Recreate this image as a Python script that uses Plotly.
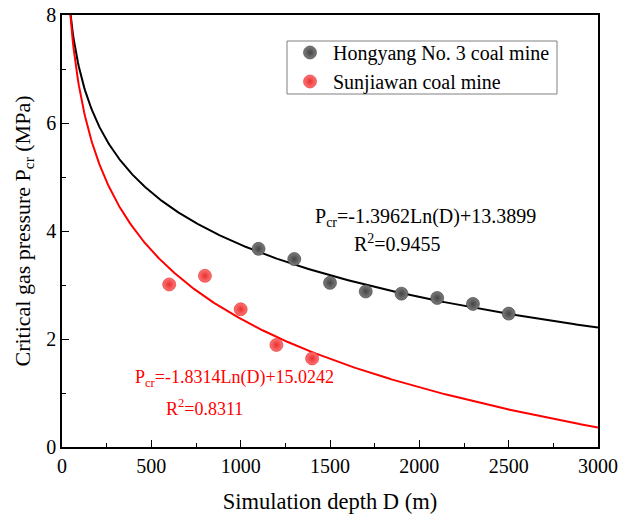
import numpy as np
import plotly.graph_objects as go

# Data
hong_depth = [1100, 1300, 1500, 1700, 1900, 2100, 2300, 2500]
hong_p = [3.67, 3.48, 3.04, 2.88, 2.84, 2.76, 2.65, 2.47]
sun_depth = [600, 800, 1000, 1200, 1400]
sun_p = [3.01, 3.17, 2.55, 1.89, 1.64]
# fitted coefficients shown on the chart: P = a*ln(D) + b
hong_fit = [-1.3962, 13.3899]
sun_fit = [-1.8314, 15.0242]
x_ticks = [0, 500, 1000, 1500, 2000, 2500, 3000]
y_ticks = [0, 2, 4, 6, 8]

FONT = "Liberation Serif, Times New Roman, serif"

d = np.linspace(40, 3000, 600)
hong_curve = hong_fit[0] * np.log(d) + hong_fit[1]
sun_curve = sun_fit[0] * np.log(d) + sun_fit[1]

fig = go.Figure()
fig.add_trace(go.Scatter(x=d, y=hong_curve, mode="lines", line=dict(color="black", width=2),
                         showlegend=False, hoverinfo="skip"))
fig.add_trace(go.Scatter(x=d, y=sun_curve, mode="lines", line=dict(color="#ff0000", width=2),
                         showlegend=False, hoverinfo="skip"))
fig.add_trace(go.Scatter(x=hong_depth, y=hong_p, mode="markers", name="Hongyang No. 3 coal mine",
                         marker=dict(size=13, color="#7c7c7c",
                                     gradient=dict(type="radial", color="#444444"),
                                     line=dict(width=0.6, color="#3a3a3a"))))
fig.add_trace(go.Scatter(x=sun_depth, y=sun_p, mode="markers", name="Sunjiawan coal mine",
                         marker=dict(size=13, color="#ff7474",
                                     gradient=dict(type="radial", color="#e83030"),
                                     line=dict(width=0.6, color="#e02828"))))


def px_x(v):
    return (v - 62) / 536


def px_y(v):
    return (447 - v) / 432


annotations = [
    dict(x=425, y=217, text="P<sub>cr</sub>=-1.3962Ln(D)+13.3899", color="black", size=20),
    dict(x=397, y=243, text="R<sup>2</sup>=0.9455", color="black", size=20),
    dict(x=234, y=378, text="P<sub>cr</sub>=-1.8314Ln(D)+15.0242", color="#ff0000", size=18),
    dict(x=204, y=407, text="R<sup>2</sup>=0.8311", color="#ff0000", size=18),
]
for a in annotations:
    fig.add_annotation(xref="paper", yref="paper",
                       x=px_x(a["x"]), y=px_y(a["y"]),
                       text=a["text"], showarrow=False, xanchor="center", yanchor="middle",
                       font=dict(family=FONT, size=a["size"], color=a["color"]))

# legend frame
fig.add_shape(type="rect", xref="paper", yref="paper",
              x0=px_x(287), x1=px_x(557), y0=px_y(94), y1=px_y(41),
              line=dict(color="#808080", width=1), fillcolor="white", layer="below")

axis_common = dict(showline=True, linecolor="black", linewidth=1.5, mirror=True,
                   ticks="inside", ticklen=7, tickwidth=1.2, tickcolor="black",
                   showgrid=False, zeroline=False, automargin=False,
                   tickfont=dict(family=FONT, size=20, color="black"))

fig.update_xaxes(range=[0, 3000], tickvals=x_ticks,
                 minor=dict(dtick=250, ticks="inside", ticklen=4, tickwidth=1.2, tickcolor="black"),
                 title=dict(text="Simulation depth D (m)", font=dict(family=FONT, size=22.5, color="black"),
                            standoff=17),
                 **axis_common)
fig.update_yaxes(range=[0, 8], tickvals=y_ticks,
                 minor=dict(dtick=1, ticks="inside", ticklen=4, tickwidth=1.2, tickcolor="black"),
                 title=dict(text="Critical gas pressure P<sub>cr</sub> (MPa)",
                            font=dict(family=FONT, size=22, color="black"), standoff=10),
                 **axis_common)

fig.update_layout(
    width=618, height=514,
    margin=dict(l=62, r=20, t=15, b=67),
    plot_bgcolor="white", paper_bgcolor="white",
    legend=dict(x=px_x(287), y=px_y(33), xanchor="left", yanchor="top",
                bgcolor="rgba(0,0,0,0)", borderwidth=0,
                font=dict(family=FONT, size=20, color="black"),
                itemwidth=36, tracegroupgap=0),
)

fig.write_html("out.html")
